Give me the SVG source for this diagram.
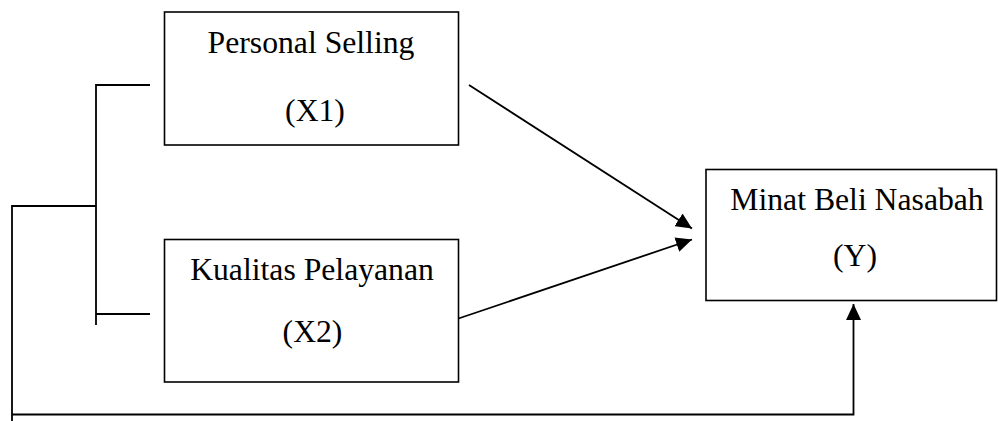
<svg xmlns="http://www.w3.org/2000/svg" width="998" height="421" viewBox="0 0 998 421">
<style>
.box{fill:#fff;stroke:#000;stroke-width:1.6}
.t{font-family:"Liberation Serif","Times New Roman",serif;font-size:31.7px;fill:#000;text-anchor:middle}
.ln{fill:none;stroke:#000;stroke-width:1.8}
</style>
<defs>
<marker id="ah" markerUnits="userSpaceOnUse" markerWidth="16" markerHeight="15" refX="16" refY="7.5" orient="auto">
<path d="M0,0 L16,7.5 L0,15 z" fill="#000"/>
</marker>
</defs>
<rect width="998" height="421" fill="#fff"/>
<g id="connectors">
<path class="ln" d="M150,85 H96 V325"/>
<path class="ln" d="M150,314 H96"/>
<path class="ln" d="M96,206 H12 V421"/>
<path class="ln" d="M12,414.5 H853.5 V304" marker-end="url(#ah)"/>
<path class="ln" d="M469,85 L692,228.5" marker-end="url(#ah)"/>
<path class="ln" d="M458.5,318.5 L692,239.5" marker-end="url(#ah)"/>
</g>
<g id="x1">
<rect class="box" x="164.5" y="12" width="294" height="133"/>
<text class="t" x="311" y="53">Personal Selling</text>
<text class="t" x="315" y="121">(X1)</text>
</g>
<g id="x2">
<rect class="box" x="164.5" y="239.5" width="294" height="142.5"/>
<text class="t" x="312" y="280">Kualitas Pelayanan</text>
<text class="t" x="312.5" y="342">(X2)</text>
</g>
<g id="y">
<rect class="box" x="706" y="169.5" width="290.5" height="131"/>
<text class="t" x="857" y="210">Minat Beli Nasabah</text>
<text class="t" x="855" y="266">(Y)</text>
</g>
</svg>
